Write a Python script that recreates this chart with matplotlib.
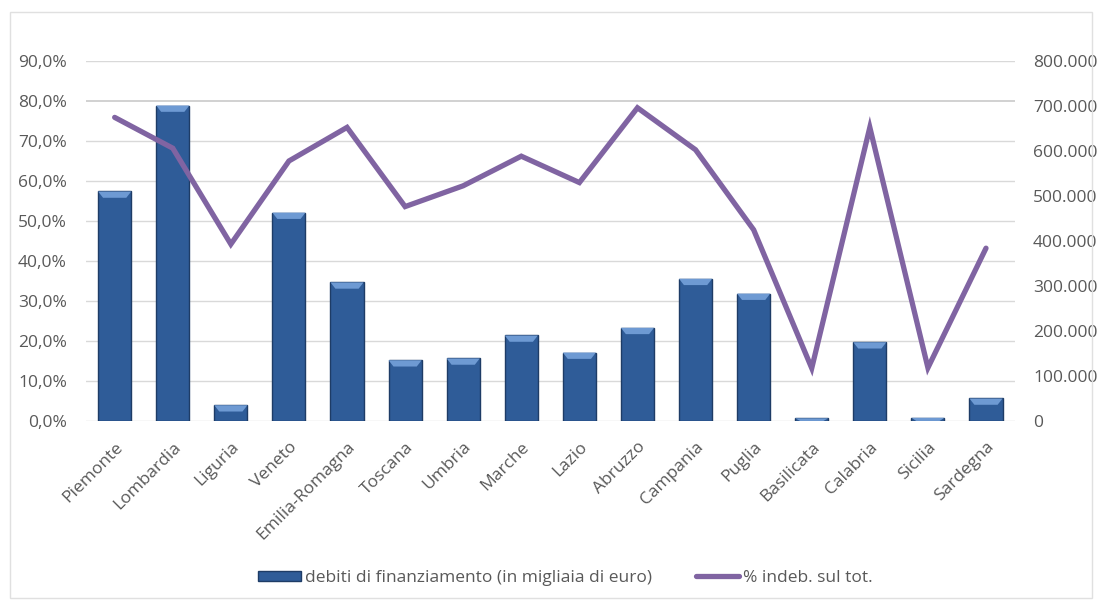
import matplotlib
matplotlib.use("Agg")
import matplotlib.pyplot as plt
from matplotlib.patches import Polygon, Rectangle
from matplotlib.lines import Line2D
from matplotlib.ticker import FuncFormatter, MultipleLocator

plt.rcParams['font.family'] = ['Open Sans', 'DejaVu Sans']

regioni = ["Piemonte", "Lombardia", "Liguria", "Veneto", "Emilia-Romagna", "Toscana",
           "Umbria", "Marche", "Lazio", "Abruzzo", "Campania", "Puglia", "Basilicata",
           "Calabria", "Sicilia", "Sardegna"]
debiti = [510000, 701000, 35000, 463000, 308000, 135000, 139000, 190000, 152000,
          207000, 316000, 283000, 6000, 175000, 7000, 50000]
perc_indeb = [75.9, 68.2, 44.2, 65.0, 73.4, 53.6, 58.8, 66.2, 59.6, 78.3, 67.8,
              47.8, 13.2, 73.4, 13.3, 43.2]

bar_col = "#2F5C98"
bar_edge = "#1E3C66"
line_col = "#8064A2"
txt_col = "#595959"
grid_col = "#D9D9D9"
fs = 12.5

fig = plt.figure(figsize=(11.02, 6.02), dpi=100)
ax = fig.add_axes([0.0777, 0.3007, 0.8434, 0.598])
ax2 = ax.twinx()

x = list(range(len(regioni)))

# bars on the right axis
ax2.bar(x, debiti, width=0.57, color=bar_col, edgecolor=bar_edge, linewidth=1, zorder=2)
# light bevel on top of each bar
for xi, h in zip(x, debiti):
    bevel = min(h, 14000)
    pts = [(xi - 0.285, h), (xi + 0.285, h), (xi + 0.20, h - bevel), (xi - 0.20, h - bevel)]
    ax2.add_patch(Polygon(pts, closed=True, facecolor="#6E9AD3", edgecolor="none", zorder=3))

ax2.set_ylim(0, 800000)
ax2.yaxis.set_major_locator(MultipleLocator(100000))
ax2.yaxis.set_major_formatter(FuncFormatter(lambda v, p: f"{int(v):,}".replace(",", ".")))

# line on the left axis, above the bars
ax.set_zorder(ax2.get_zorder() + 1)
ax.patch.set_visible(False)
ax.plot(x, perc_indeb, color=line_col, linewidth=3.8, solid_capstyle="round",
        solid_joinstyle="miter", zorder=4)
ax.set_ylim(0, 90)
ax.yaxis.set_major_locator(MultipleLocator(10))
ax.yaxis.set_major_formatter(FuncFormatter(lambda v, p: f"{v:.1f}%".replace(".", ",")))
ax.set_xlim(-0.5, len(regioni) - 0.5)

# grid lines behind the bars
for g in range(0, 100, 10):
    c = "#C9C9C9" if g == 80 else grid_col
    ax2.axhline(g / 90 * 800000, color=c, linewidth=1.2 if g == 80 else 1, zorder=1)

ax.set_xticks(x)
ax.set_xticklabels(regioni, rotation=45, ha="right", rotation_mode="anchor")

for a in (ax, ax2):
    for s in a.spines.values():
        s.set_visible(False)
    a.tick_params(length=0, labelsize=fs, labelcolor=txt_col)
ax.tick_params(axis="y", pad=13.5)
ax2.tick_params(axis="y", pad=13)
ax.tick_params(axis="x", pad=13)

handles = [Rectangle((0, 0), 1, 1, facecolor=bar_col, edgecolor=bar_edge),
           Line2D([0], [0], color=line_col, linewidth=3.8, solid_capstyle="round")]
fig.legend(handles, ["debiti di finanziamento (in migliaia di euro)", "% indeb. sul tot."],
           loc="center", bbox_to_anchor=(0.513, 0.040), ncol=2, frameon=False,
           fontsize=fs, labelcolor=txt_col, handlelength=2.5, handleheight=0.55,
           handletextpad=0.23, columnspacing=2.5)

fig.add_artist(Rectangle((10 / 1102, 4 / 602), 1082 / 1102, 586 / 602,
                         transform=fig.transFigure, fill=False,
                         edgecolor="#E0E0E0", linewidth=1))

fig.savefig("out.png", dpi=100)
